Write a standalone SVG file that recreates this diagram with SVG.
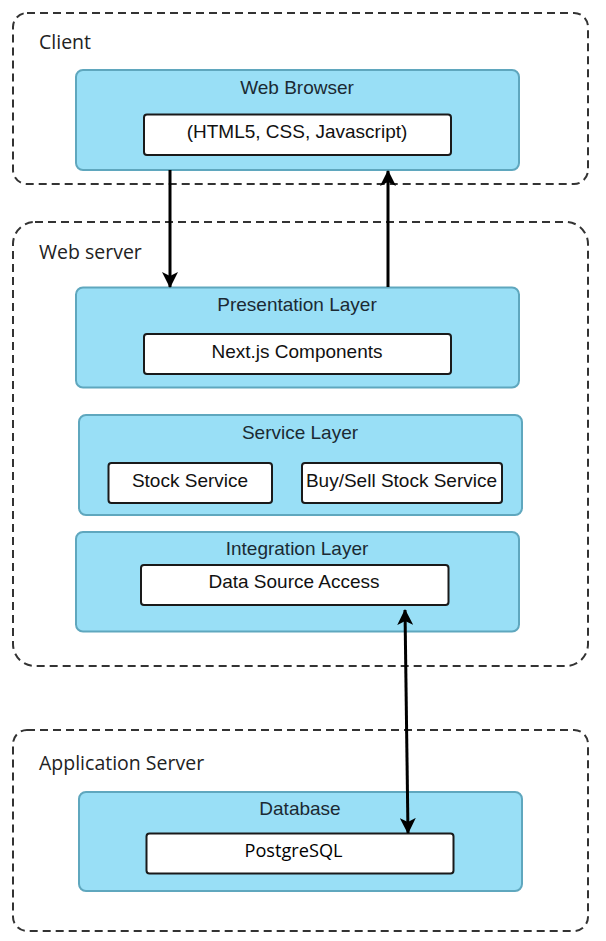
<svg xmlns="http://www.w3.org/2000/svg" width="606" height="941" viewBox="0 0 606 941">
<defs>
<style>
.grp{fill:none;stroke:#333;stroke-width:2;stroke-dasharray:8 5}
.glabel{font-family:"Open Sans","Noto Sans",sans-serif;font-size:19.5px;fill:#222}
.layer{fill:#99DFF6;stroke:#5FA7BE;stroke-width:2}
.inner{fill:#fff;stroke:#1a1a1a;stroke-width:2}
.ltxt{font-family:"Liberation Sans",Arial,sans-serif;font-size:19px;fill:#1b2a33;text-anchor:middle}
.itxt{font-family:"Liberation Sans",Arial,sans-serif;font-size:19px;fill:#111;text-anchor:middle}
.conn{fill:none;stroke:#000;stroke-width:3}
</style>
<marker id="ah" viewBox="0 0 16 16" refX="15" refY="8" markerWidth="16" markerHeight="16" markerUnits="userSpaceOnUse" orient="auto-start-reverse">
<path d="M0,0 L16,8 L0,16 L4,8 Z" fill="#000"/>
</marker>
</defs>
<rect width="606" height="941" fill="#fff"/>

<g id="client">
<rect class="grp" x="13" y="13" width="575" height="171" rx="14"/>
<text class="glabel" x="39" y="49">Client</text>
</g>
<g id="webserver">
<rect class="grp" x="13" y="222" width="575" height="444" rx="22"/>
<text class="glabel" x="39" y="259">Web server</text>
</g>
<g id="appserver">
<rect class="grp" x="13" y="730" width="575" height="201" rx="14"/>
<text class="glabel" x="39" y="770">Application Server</text>
</g>

<g id="web-browser">
<rect class="layer" x="76" y="70" width="443" height="100" rx="7"/>
<text class="ltxt" x="297" y="93.5">Web Browser</text>
</g>
<g id="html-css-js">
<rect class="inner" x="144" y="114.5" width="307" height="40.5" rx="3"/>
<text class="itxt" x="297" y="138">(HTML5, CSS, Javascript)</text>
</g>

<g id="presentation-layer">
<rect class="layer" x="76" y="287.5" width="443" height="100" rx="7"/>
<text class="ltxt" x="297" y="311">Presentation Layer</text>
</g>
<g id="nextjs">
<rect class="inner" x="144" y="334" width="307" height="40" rx="3"/>
<text class="itxt" x="297" y="357.5">Next.js Components</text>
</g>

<g id="service-layer">
<rect class="layer" x="79" y="415" width="443" height="100" rx="7"/>
<text class="ltxt" x="300" y="439">Service Layer</text>
</g>
<g id="stock-service">
<rect class="inner" x="108.5" y="463" width="163.5" height="40" rx="3"/>
<text class="itxt" x="190" y="487">Stock Service</text>
</g>
<g id="buysell-service">
<rect class="inner" x="302" y="463" width="200" height="40" rx="3"/>
<text class="itxt" x="401.5" y="487">Buy/Sell Stock Service</text>
</g>

<g id="integration-layer">
<rect class="layer" x="76" y="532" width="443" height="99.5" rx="7"/>
<text class="ltxt" x="297" y="554.5">Integration Layer</text>
</g>
<g id="data-source-access">
<rect class="inner" x="141" y="565" width="307.5" height="40" rx="3"/>
<text class="itxt" x="294" y="587.5">Data Source Access</text>
</g>

<g id="database">
<rect class="layer" x="79" y="792" width="443" height="99" rx="7"/>
<text class="ltxt" x="300" y="814.5">Database</text>
</g>
<g id="postgresql">
<rect class="inner" x="146.5" y="833.5" width="307" height="40" rx="3"/>
<text x="293.5" y="857" font-family="'Open Sans','Noto Sans',sans-serif" font-size="18" fill="#000" text-anchor="middle" textLength="98" lengthAdjust="spacingAndGlyphs">PostgreSQL</text>
</g>

<g id="connectors">
<line class="conn" x1="170" y1="170" x2="170" y2="287" marker-end="url(#ah)"/>
<line class="conn" x1="388" y1="287" x2="388" y2="171" marker-end="url(#ah)"/>
<line class="conn" x1="405" y1="610" x2="408" y2="833" marker-start="url(#ah)" marker-end="url(#ah)"/>
</g>
</svg>
